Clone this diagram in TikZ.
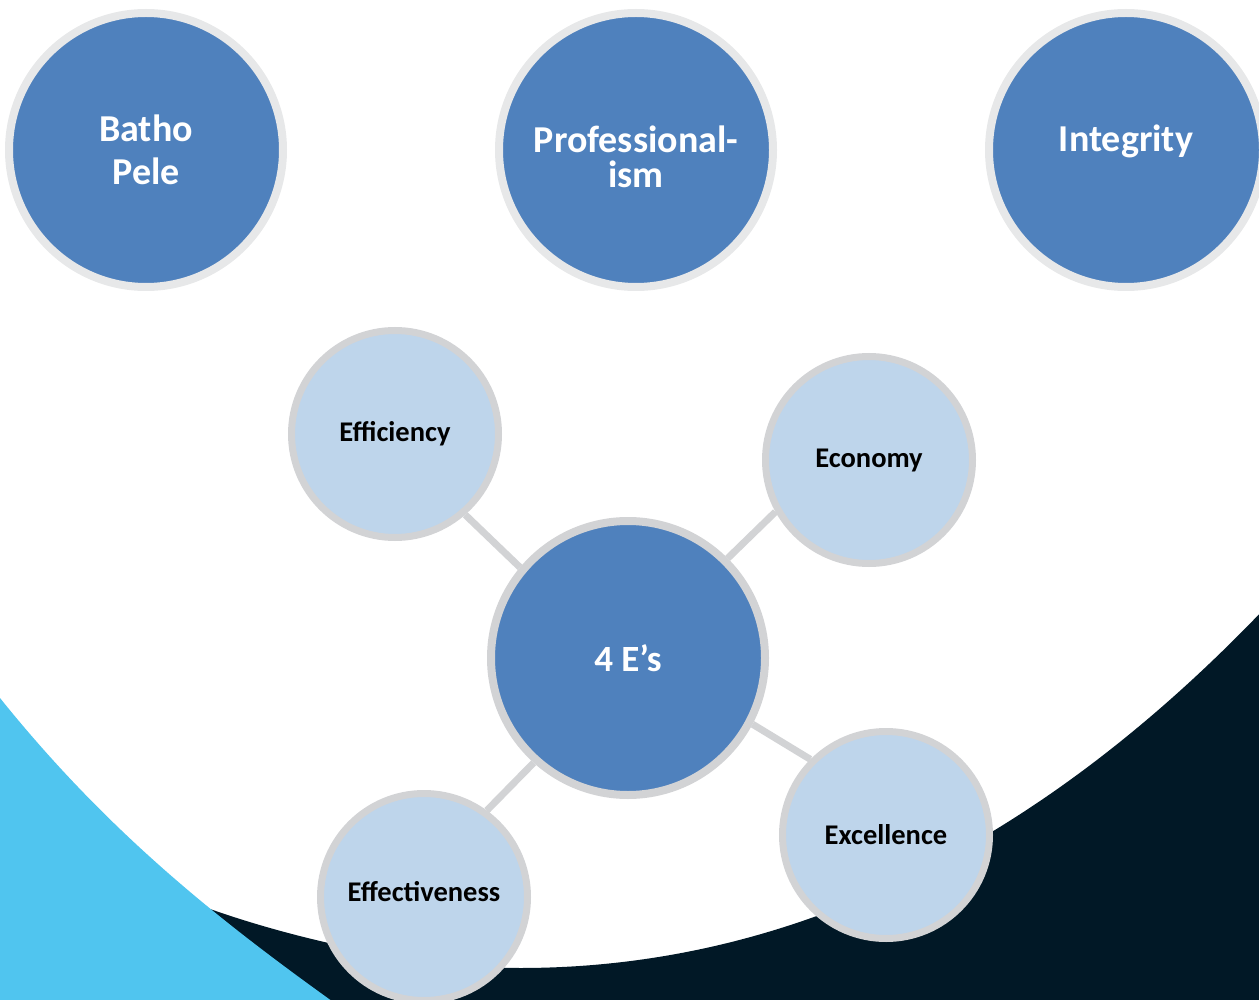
\documentclass[tikz,border=0pt]{standalone}
\usepackage{fontspec}
\setmainfont{Carlito}

\definecolor{valblue}{HTML}{4F81BD}
\definecolor{valpale}{HTML}{BED5EB}
\definecolor{valring}{HTML}{E7E8E9}
\definecolor{valgrey}{HTML}{D2D3D5}
\definecolor{valnavy}{HTML}{011826}
\definecolor{valcyan}{HTML}{50C5EF}

\begin{document}
\begin{tikzpicture}[
  x=1pt, y=-1pt,
  value/.style={circle, draw=valring, line width=8pt, fill=valblue, minimum size=274pt, align=center, text=white, font=\fontsize{38}{43}\selectfont\bfseries},
  hub/.style={value, draw=valgrey, font=\fontsize{37}{40}\selectfont\bfseries},
  spoke/.style={circle, draw=valgrey, line width=7pt, fill=valpale, minimum size=207pt, align=center, font=\fontsize{28.5}{32}\selectfont\bfseries},
  link/.style={draw=valgrey, line width=7pt}
]
\useasboundingbox (0,0) rectangle (1259,1000);
\clip (0,0) rectangle (1259,1000);

% backdrop: dark sweep with the light blue wedge over it
\fill[valnavy] (150,885) .. controls (260,935) and (420,968) .. (520,968)
  .. controls (820,968) and (1066,817) .. (1266,607) -- (1266,1006) -- (150,1006) -- cycle;
\fill[valcyan] (0,698) .. controls (110,835) and (223,923) .. (336,1004) -- (0,1004) -- cycle;

% values in the top row
\node[value] (batho) at (146,150) {Batho\\Pele};
\node[value, font=\fontsize{38}{35}\selectfont\bfseries, text height=80pt, text depth=4pt] (prof) at (636,150) {Professional-\\ism};
\node[value, text height=24pt, text depth=20pt] (integ) at (1126,150) {Integrity};

% the 4 E's and their spokes
\node[hub] (four) at (628,658) {4 E’s};
\node[spoke] (effi) at (395,434) {Efficiency};
\node[spoke] (econ) at (869,460) {Economy};
\node[spoke] (exce) at (886,835) {Excellence};
\node[spoke, text height=20pt, text depth=12pt] (effe) at (424,897) {Effectiveness};

\draw[link] (four.140) -- (effi.-49);
\draw[link] (four.45) -- (econ.209);
\draw[link] (four.-28) -- (exce.135);
\draw[link] (four.-132) -- (effe.54);
\end{tikzpicture}
\end{document}
